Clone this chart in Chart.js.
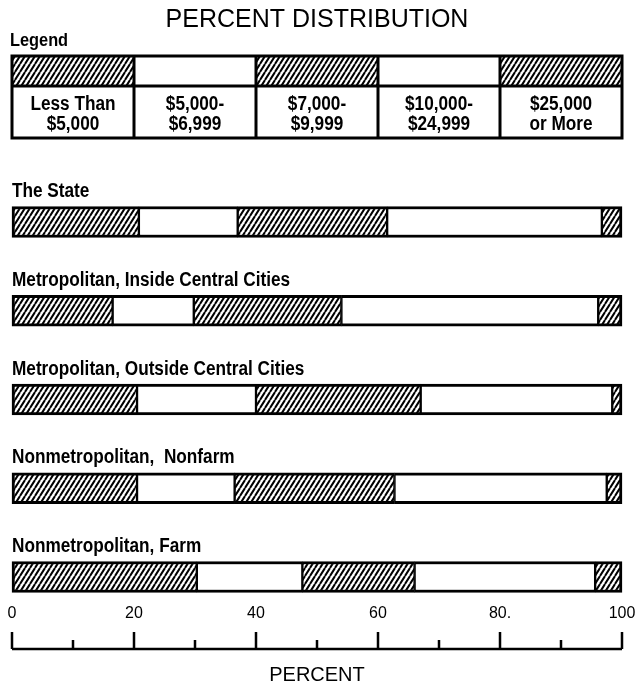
<!DOCTYPE html>
<html>
<head>
<meta charset="utf-8">
<title>Percent Distribution</title>
<script src="https://cdn.jsdelivr.net/npm/chart.js@4.4.1/dist/chart.umd.min.js"></script>
<style>
  html, body { margin: 0; padding: 0; background: #fff; }
</style>
</head>
<body>
<canvas id="grafico" width="635" height="684"></canvas>
<script>
// Datos (porcentajes por tipo de residencia)
const categorias = [
  "The State",
  "Metropolitan, Inside Central Cities",
  "Metropolitan, Outside Central Cities",
  "Nonmetropolitan,  Nonfarm",
  "Nonmetropolitan, Farm"
];
const clasesIngreso = [
  ["Less Than", "$5,000"],
  ["$5,000-", "$6,999"],
  ["$7,000-", "$9,999"],
  ["$10,000-", "$24,999"],
  ["$25,000", "or More"]
];
const menos5000 = [20.8, 16.5, 20.5, 20.5, 30.3];
const de5000a6999 = [16.2, 13.3, 19.5, 16.0, 17.3];
const de7000a9999 = [24.5, 24.2, 27.0, 26.2, 18.4];
const de10000a24999 = [35.2, 42.1, 31.4, 34.8, 29.6];
const mas25000 = [3.3, 3.9, 1.6, 2.5, 4.4];
const ticksX = ["0", "20", "40", "60", "80.", "100"];

const fuente = "'Liberation Sans', Arial, sans-serif";

const canvas = document.getElementById("grafico");
const ctx = canvas.getContext("2d");

// rayado diagonal para las clases alternas
function crearRayado(ctx) {
  const w = 5, h = 8;
  const c = document.createElement("canvas");
  c.width = w; c.height = h;
  const g = c.getContext("2d");
  g.fillStyle = "#fff";
  g.fillRect(0, 0, w, h);
  g.strokeStyle = "#000";
  g.lineWidth = 2;
  g.beginPath();
  for (let k = -1; k <= 1; k++) {
    g.moveTo(k * w, h);
    g.lineTo((k + 1) * w, 0);
  }
  g.stroke();
  return ctx.createPattern(c, "repeat");
}
const rayado = crearRayado(ctx);

const series = [menos5000, de5000a6999, de7000a9999, de10000a24999, mas25000];
const datasets = series.map((data, i) => ({
  label: clasesIngreso[i].join(" "),
  data,
  backgroundColor: i % 2 === 0 ? rayado : "#fff",
  borderColor: "#000",
  borderWidth: { top: 3, bottom: 3, left: i === 0 ? 3 : 1.5, right: i === 4 ? 3 : 1.5 },
  borderSkipped: false,
  barThickness: 31,
  clip: false
}));

// texto angosto (no hay fuente condensada instalada)
function textoAngosto(ctx, txt, x, y, size, align) {
  const esc = 0.86;
  ctx.save();
  ctx.font = "bold " + size + "px " + fuente;
  ctx.textAlign = align;
  ctx.translate(x, y);
  ctx.scale(esc, 1);
  ctx.fillText(txt, 0, 0);
  ctx.restore();
}

// leyenda tipo tabla, etiquetas sobre cada barra y eje con marcas hacia arriba
const dibujoExtra = {
  id: "dibujoExtra",
  afterDraw(chart) {
    const { ctx, chartArea, scales } = chart;
    const x = scales.x, y = scales.y;
    ctx.save();
    ctx.fillStyle = "#000";
    ctx.strokeStyle = "#000";

    // etiquetas de categoria
    ctx.textBaseline = "alphabetic";
    categorias.forEach((c, i) => {
      const yc = y.getPixelForValue(i);
      textoAngosto(ctx, c, chartArea.left, yc - 15.5 - 9.5, 20, "left");
    });

    // leyenda
    textoAngosto(ctx, "Legend", 10, 46, 19, "left");
    const l0 = chartArea.left, w = (chartArea.right - chartArea.left) / 5;
    const top = 56, mid = 86, bot = 138;
    clasesIngreso.forEach((lineas, i) => {
      ctx.fillStyle = i % 2 === 0 ? rayado : "#fff";
      ctx.fillRect(l0 + i * w, top, w, mid - top);
    });
    ctx.lineWidth = 3;
    ctx.beginPath();
    ctx.rect(l0, top, chartArea.right - l0, bot - top);
    ctx.moveTo(l0, mid); ctx.lineTo(chartArea.right, mid);
    for (let i = 1; i < 5; i++) {
      ctx.moveTo(l0 + i * w, top); ctx.lineTo(l0 + i * w, bot);
    }
    ctx.stroke();
    ctx.fillStyle = "#000";
    ctx.textBaseline = "middle";
    clasesIngreso.forEach((lineas, i) => {
      textoAngosto(ctx, lineas[0], l0 + (i + 0.5) * w, 104, 20, "center");
      textoAngosto(ctx, lineas[1], l0 + (i + 0.5) * w, 124, 20, "center");
    });

    // eje inferior
    const base = chartArea.bottom + 72;
    ctx.lineWidth = 2.5;
    ctx.beginPath();
    ctx.moveTo(x.getPixelForValue(0), base);
    ctx.lineTo(x.getPixelForValue(100), base);
    for (let v = 0; v <= 100; v += 10) {
      const px = x.getPixelForValue(v);
      ctx.moveTo(px, base);
      ctx.lineTo(px, base - (v % 20 === 0 ? 17 : 9));
    }
    ctx.stroke();
    ctx.restore();
  }
};

new Chart(ctx, {
  type: "bar",
  data: { labels: categorias, datasets },
  plugins: [dibujoExtra],
  options: {
    indexAxis: "y",
    responsive: false,
    animation: false,
    layout: { padding: { left: 12, right: 13, top: 0, bottom: 0 } },
    plugins: {
      legend: { display: false },
      tooltip: { enabled: false },
      title: {
        display: true,
        text: "PERCENT DISTRIBUTION",
        color: "#000",
        font: { family: fuente, size: 25, weight: "normal" },
        padding: { top: 5, bottom: 187 }
      }
    },
    scales: {
      x: {
        stacked: true,
        min: 0,
        max: 100,
        grid: { display: false, drawTicks: false },
        border: { display: false },
        ticks: {
          stepSize: 20,
          padding: 26,
          autoSkip: false,
          maxRotation: 0,
          color: "#000",
          font: { family: fuente, size: 16, lineHeight: 1.275 },
          callback: (v, i) => ticksX[i]
        },
        title: {
          display: true,
          text: "PERCENT",
          color: "#000",
          font: { family: fuente, size: 20, lineHeight: 0.9 },
          padding: { top: 16.6, bottom: 0 }
        },
        afterFit(scale) {
          // sin margen extra para las etiquetas de los extremos
          scale.paddingLeft = 0;
          scale.paddingRight = 0;
        }
      },
      y: { stacked: true, display: false, offset: false }
    }
  }
});
</script>
</body>
</html>
